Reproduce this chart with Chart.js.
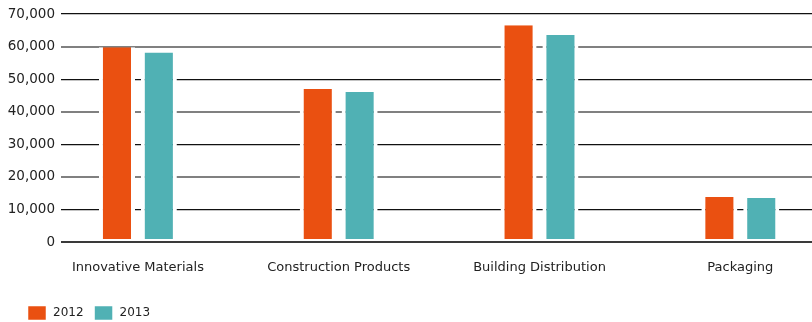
<!DOCTYPE html>
<html>
<head>
<meta charset="utf-8">
<title>Sales by division</title>
<script src="https://cdn.jsdelivr.net/npm/chart.js@4/dist/chart.umd.min.js"></script>
<style>
  html, body { margin: 0; padding: 0; background: #fff; }
  #wrap { width: 812px; height: 322px; position: relative; }
</style>
</head>
<body>
<div id="wrap"><canvas id="salesChart"></canvas></div>
<script>
// Divisions along the x axis
var categories = ['Innovative Materials', 'Construction Products', 'Building Distribution', 'Packaging'];

// Yearly figures per division
var sales2012 = [59800, 47000, 66600, 13800];
var sales2013 = [58200, 46100, 63600, 13500];

// Y axis ticks
var yTicks = [0, 10000, 20000, 30000, 40000, 50000, 60000, 70000];

var fontFamily = '"DejaVu Sans", sans-serif';

// Build {x, y} points so the bars sit on a numeric x scale
function toPoints(values) {
    return values.map(function(v, i) { return { x: i, y: v }; });
}

// Alternate black / grey rules, darker base line
function gridColor(ctx) {
    var v = ctx.tick ? ctx.tick.value : 0;
    if (v === 0) return '#3a3a3a';
    return (v / 10000) % 2 === 1 ? '#111111' : '#808080';
}
function gridWidth(ctx) {
    var v = ctx.tick ? ctx.tick.value : 0;
    if (v === 0) return 2;
    return (v / 10000) % 2 === 1 ? 1.3 : 2;
}

// Push the legend in a little from the left edge
var legendIndent = {
    id: 'legendIndent',
    afterLayout: function(chart) {
        chart.legend.left = 17;
    }
};

var ctx = document.getElementById('salesChart').getContext('2d');
var salesChart = new Chart(ctx, {
    type: 'bar',
    data: {
        datasets: [{
            label: '2012',
            data: toPoints(sales2012),
            backgroundColor: '#ea5011',
            borderColor: '#ffffff',
            borderWidth: { left: 4, right: 4, top: 0, bottom: 2 },
            borderSkipped: false
        }, {
            label: '2013',
            data: toPoints(sales2013),
            backgroundColor: '#50b1b4',
            borderColor: '#ffffff',
            borderWidth: { left: 4, right: 4, top: 0, bottom: 2 },
            borderSkipped: false
        }]
    },
    plugins: [legendIndent],
    options: {
        responsive: true,
        maintainAspectRatio: false,
        animation: false,
        categoryPercentage: 0.417,
        barPercentage: 0.861,
        layout: { padding: { left: 0, right: 0, top: 14, bottom: 0 } },
        plugins: {
            tooltip: { enabled: false },
            legend: {
                position: 'bottom',
                align: 'start',
                maxHeight: 27,
                labels: {
                    boxWidth: 20,
                    boxHeight: 16,
                    padding: 10,
                    color: '#222',
                    font: { family: fontFamily, size: 12 }
                }
            }
        },
        scales: {
            x: {
                type: 'linear',
                min: -0.383,
                max: 3.357,
                offset: false,
                grid: { display: false, drawTicks: false },
                border: { display: false },
                afterBuildTicks: function(scale) {
                    scale.ticks = categories.map(function(c, i) { return { value: i }; });
                },
                afterFit: function(scale) { scale.height = 53; },
                ticks: {
                    padding: 18,
                    color: '#222',
                    font: { family: fontFamily, size: 13 },
                    autoSkip: false,
                    maxRotation: 0,
                    callback: function(value) { return categories[value]; }
                }
            },
            y: {
                min: yTicks[0],
                max: yTicks[yTicks.length - 1],
                afterFit: function(scale) { scale.width = 61; },
                afterBuildTicks: function(scale) {
                    scale.ticks = yTicks.map(function(v) { return { value: v }; });
                },
                grid: { color: gridColor, lineWidth: gridWidth, drawTicks: false },
                border: { display: false },
                ticks: {
                    padding: 6,
                    color: '#222',
                    font: { family: fontFamily, size: 13.5 },
                    callback: function(value) { return value.toLocaleString('en-US'); }
                }
            }
        }
    }
});
</script>
</body>
</html>
